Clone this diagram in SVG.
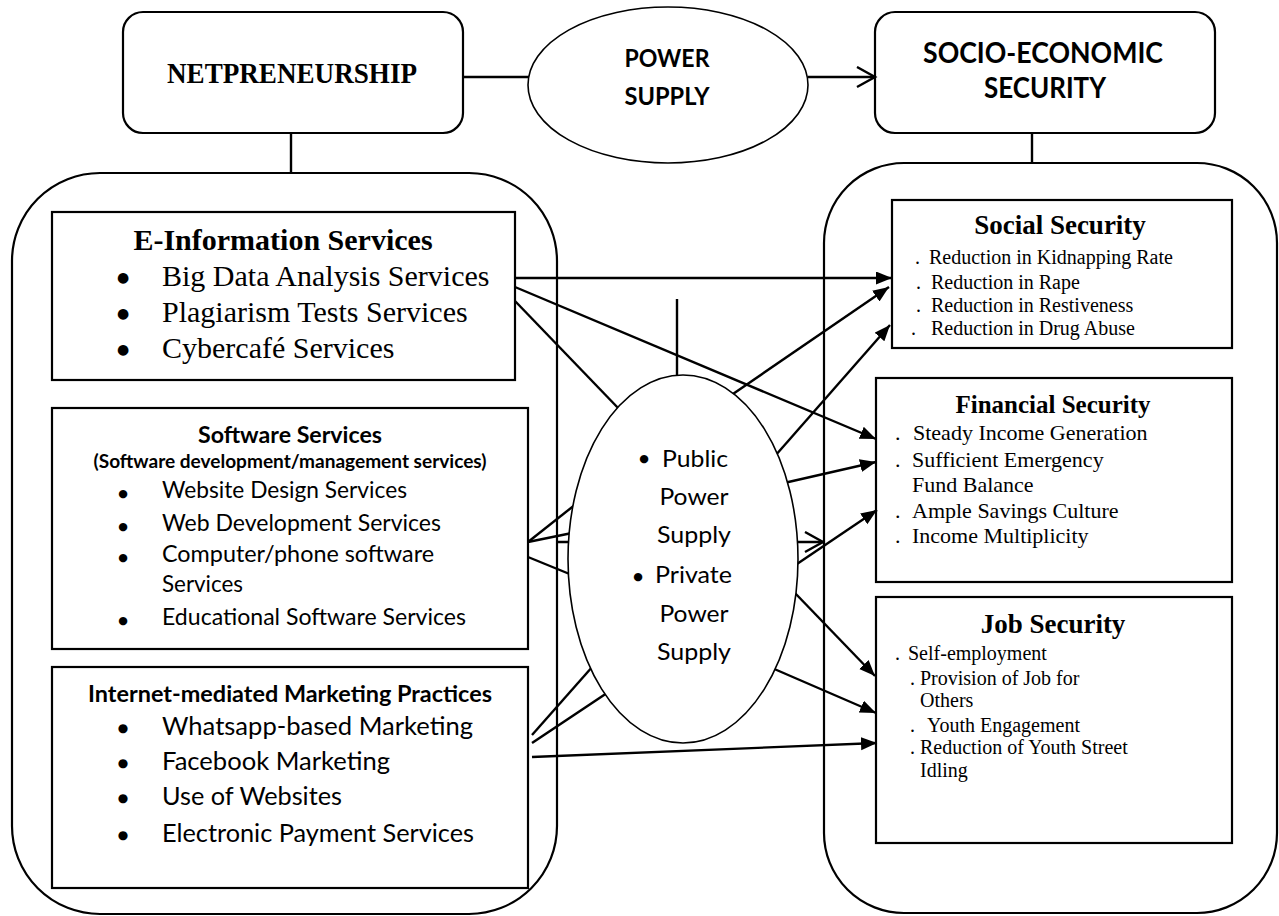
<svg xmlns="http://www.w3.org/2000/svg" width="1279" height="916" viewBox="0 0 1279 916">
<style>
.bg{fill:#fff}
.box{fill:#fff;stroke:#000;stroke-width:2.2}
.ell{fill:#fff;stroke:#000;stroke-width:1.6}
.ln{fill:none;stroke:#000;stroke-width:2.4}
.tb{font-family:"Liberation Serif","Times New Roman",serif;font-weight:bold;fill:#000}
.tr{font-family:"Liberation Serif","Times New Roman",serif;fill:#000}
.cb{font-family:Lato,"Liberation Sans",sans-serif;font-weight:bold;fill:#000}
.cr{font-family:Lato,"Liberation Sans",sans-serif;fill:#000}
.mid{text-anchor:middle}
.bt{font-family:"DejaVu Sans",sans-serif;text-anchor:middle;fill:#000}
</style>
<defs>
<marker id="fa" markerUnits="userSpaceOnUse" markerWidth="17" markerHeight="14" refX="16" refY="6.5" orient="auto">
<path d="M0,0 L16,6.5 L0,13 z" fill="#000"/>
</marker>
<marker id="oa" markerUnits="userSpaceOnUse" markerWidth="22" markerHeight="24" refX="19" refY="11" orient="auto">
<path d="M1,1 L19,11 L1,21" fill="none" stroke="#000" stroke-width="2.4"/>
</marker>
</defs>
<rect class="bg" x="0" y="0" width="1279" height="916"/>

<g id="netpreneurship">
<rect class="box" x="123" y="12" width="340" height="121" rx="20"/>
<text class="tb mid" x="292" y="83" font-size="30" textLength="250" lengthAdjust="spacingAndGlyphs">NETPRENEURSHIP</text>
</g>

<g id="power-supply">
<ellipse class="ell" cx="668" cy="85" rx="140" ry="78"/>
<text class="cb mid" x="667" y="67" font-size="25" textLength="85" lengthAdjust="spacingAndGlyphs">POWER</text>
<text class="cb mid" x="667" y="105" font-size="25" textLength="85" lengthAdjust="spacingAndGlyphs">SUPPLY</text>
</g>

<g id="socio-economic-security">
<rect class="box" x="875" y="12" width="340" height="121" rx="20"/>
<text class="cb mid" x="1043" y="63" font-size="29" textLength="240" lengthAdjust="spacingAndGlyphs">SOCIO-ECONOMIC</text>
<text class="cb mid" x="1045" y="98" font-size="29" textLength="122" lengthAdjust="spacingAndGlyphs">SECURITY</text>
</g>

<g id="netpreneurship-container">
<rect class="box" x="12" y="173" width="545" height="741" rx="88"/>
</g>

<g id="security-container">
<rect class="box" x="824" y="163" width="453" height="750" rx="80"/>
</g>

<g id="e-information-services">
<rect class="box" x="52" y="212" width="463" height="168"/>
<text class="tb mid" x="283" y="250" font-size="30">E-Information Services</text>
<text class="bt" x="123" y="282" font-size="14">●</text>
<text class="tr" x="162" y="286" font-size="30">Big Data Analysis Services</text>
<text class="bt" x="123" y="318" font-size="14">●</text>
<text class="tr" x="162" y="322" font-size="30">Plagiarism Tests Services</text>
<text class="bt" x="123" y="354" font-size="14">●</text>
<text class="tr" x="162" y="358" font-size="30">Cybercafé Services</text>
</g>

<g id="software-services">
<rect class="box" x="52" y="408" width="476" height="241"/>
<text class="cb mid" x="290" y="443" font-size="23" textLength="184" lengthAdjust="spacingAndGlyphs">Software Services</text>
<text class="cb mid" x="290" y="468" font-size="19" textLength="393" lengthAdjust="spacingAndGlyphs">(Software development/management services)</text>
<text class="bt" x="123" y="497" font-size="11">●</text>
<text class="cr" x="162" y="498" font-size="23" textLength="245" lengthAdjust="spacingAndGlyphs">Website Design Services</text>
<text class="bt" x="123" y="530" font-size="11">●</text>
<text class="cr" x="162" y="531" font-size="23" textLength="279" lengthAdjust="spacingAndGlyphs">Web Development Services</text>
<text class="bt" x="123" y="561" font-size="11">●</text>
<text class="cr" x="162" y="562" font-size="23" textLength="272" lengthAdjust="spacingAndGlyphs">Computer/phone software</text>
<text class="cr" x="162" y="592" font-size="23" textLength="81" lengthAdjust="spacingAndGlyphs">Services</text>
<text class="bt" x="123" y="624" font-size="11">●</text>
<text class="cr" x="162" y="625" font-size="23" textLength="304" lengthAdjust="spacingAndGlyphs">Educational Software Services</text>
</g>

<g id="internet-marketing">
<rect class="box" x="52" y="667" width="476" height="221"/>
<text class="cb mid" x="290" y="702" font-size="23" textLength="404" lengthAdjust="spacingAndGlyphs">Internet-mediated Marketing Practices</text>
<text class="bt" x="123" y="732" font-size="12">●</text>
<text class="cr" x="162" y="735" font-size="25" textLength="311" lengthAdjust="spacingAndGlyphs">Whatsapp-based Marketing</text>
<text class="bt" x="123" y="767" font-size="12">●</text>
<text class="cr" x="162" y="770" font-size="25" textLength="228" lengthAdjust="spacingAndGlyphs">Facebook Marketing</text>
<text class="bt" x="123" y="802" font-size="12">●</text>
<text class="cr" x="162" y="805" font-size="25" textLength="180" lengthAdjust="spacingAndGlyphs">Use of Websites</text>
<text class="bt" x="123" y="839" font-size="12">●</text>
<text class="cr" x="162" y="842" font-size="25" textLength="312" lengthAdjust="spacingAndGlyphs">Electronic Payment Services</text>
</g>

<g id="social-security">
<rect class="box" x="892" y="200" width="340" height="148"/>
<text class="tb mid" x="1060" y="234" font-size="27">Social Security</text>
<text class="tr" x="915" y="264" font-size="20">.</text>
<text class="tr" x="929" y="264" font-size="20">Reduction in Kidnapping Rate</text>
<text class="tr" x="916" y="289" font-size="20">.</text>
<text class="tr" x="931" y="289" font-size="20">Reduction in Rape</text>
<text class="tr" x="916" y="312" font-size="20">.</text>
<text class="tr" x="931" y="312" font-size="20">Reduction in Restiveness</text>
<text class="tr" x="911" y="335" font-size="20">.</text>
<text class="tr" x="931" y="335" font-size="20">Reduction in Drug Abuse</text>
</g>

<g id="financial-security">
<rect class="box" x="876" y="378" width="356" height="204"/>
<text class="tb mid" x="1053" y="413" font-size="25">Financial Security</text>
<text class="tr" x="895" y="440" font-size="22">.</text>
<text class="tr" x="913" y="440" font-size="22">Steady Income Generation</text>
<text class="tr" x="895" y="467" font-size="22">.</text>
<text class="tr" x="912" y="467" font-size="22">Sufficient Emergency</text>
<text class="tr" x="912" y="492" font-size="22">Fund Balance</text>
<text class="tr" x="895" y="518" font-size="22">.</text>
<text class="tr" x="912" y="518" font-size="22">Ample Savings Culture</text>
<text class="tr" x="895" y="543" font-size="22">.</text>
<text class="tr" x="912" y="543" font-size="22">Income Multiplicity</text>
</g>

<g id="job-security">
<rect class="box" x="876" y="597" width="356" height="246"/>
<text class="tb mid" x="1053" y="633" font-size="27">Job Security</text>
<text class="tr" x="895" y="660" font-size="20">.</text>
<text class="tr" x="908" y="660" font-size="20">Self-employment</text>
<text class="tr" x="910" y="685" font-size="20">.</text>
<text class="tr" x="920" y="685" font-size="20">Provision of Job for</text>
<text class="tr" x="920" y="707" font-size="20">Others</text>
<text class="tr" x="910" y="732" font-size="20">.</text>
<text class="tr" x="927" y="732" font-size="20">Youth Engagement</text>
<text class="tr" x="910" y="754" font-size="20">.</text>
<text class="tr" x="920" y="754" font-size="20">Reduction of Youth Street</text>
<text class="tr" x="920" y="777" font-size="20">Idling</text>
</g>

<g id="connectors">
<path class="ln" d="M291,133 L291,173"/>
<path class="ln" d="M1032,133 L1032,163"/>
<path class="ln" d="M463,77 L529,77"/>
<path class="ln" d="M808,77 L875,77" marker-end="url(#oa)"/>
<path class="ln" d="M515,278 L892,278" marker-end="url(#fa)"/>
<path class="ln" d="M515,287 L876,439" marker-end="url(#fa)"/>
<path class="ln" d="M515,301 L620,410"/>
<path class="ln" d="M730,396 L889,287" marker-end="url(#fa)"/>
<path class="ln" d="M775,456 L890,325" marker-end="url(#fa)"/>
<path class="ln" d="M784,483 L876,462" marker-end="url(#fa)"/>
<path class="ln" d="M557,542 L823,542" marker-end="url(#oa)"/>
<path class="ln" d="M794,566 L877,510" marker-end="url(#fa)"/>
<path class="ln" d="M794,592 L875,676" marker-end="url(#fa)"/>
<path class="ln" d="M772,668 L876,713" marker-end="url(#fa)"/>
<path class="ln" d="M532,757 L877,743" marker-end="url(#fa)"/>
<path class="ln" d="M528,542 L576,504"/>
<path class="ln" d="M528,542 L572,533"/>
<path class="ln" d="M528,557 L572,575"/>
<path class="ln" d="M532,735 L593,666"/>
<path class="ln" d="M532,743 L607,693"/>
<path class="ln" d="M677,299 L677,377"/>
</g>

<g id="power-sources">
<ellipse class="ell" cx="683" cy="559" rx="115" ry="184"/>
<text class="bt" x="644" y="462" font-size="11">●</text>
<text class="cr" x="662" y="467" font-size="24" textLength="66" lengthAdjust="spacingAndGlyphs">Public</text>
<text class="cr mid" x="694" y="505" font-size="24" textLength="69" lengthAdjust="spacingAndGlyphs">Power</text>
<text class="cr mid" x="694" y="543" font-size="24" textLength="74" lengthAdjust="spacingAndGlyphs">Supply</text>
<text class="bt" x="638" y="580" font-size="11">●</text>
<text class="cr" x="655" y="583" font-size="24" textLength="77" lengthAdjust="spacingAndGlyphs">Private</text>
<text class="cr mid" x="694" y="622" font-size="24" textLength="69" lengthAdjust="spacingAndGlyphs">Power</text>
<text class="cr mid" x="694" y="660" font-size="24" textLength="74" lengthAdjust="spacingAndGlyphs">Supply</text>
</g>
</svg>
